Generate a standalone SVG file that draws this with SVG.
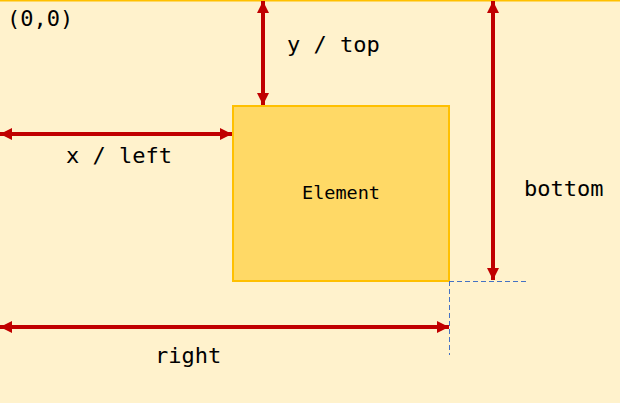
<svg xmlns="http://www.w3.org/2000/svg" width="620" height="403" viewBox="0 0 620 403">
<style>
.lbl{font-family:"DejaVu Sans Mono","Liberation Mono",monospace;font-size:22px;fill:#000}
.arr{stroke:#c00000;stroke-width:4;fill:none;marker-start:url(#ah);marker-end:url(#ah)}
.guide{stroke:#4472c4;stroke-width:1;stroke-dasharray:5,3;fill:none}
</style>
<defs>
<marker id="ah" viewBox="0 0 10 10" refX="10" refY="5" markerWidth="3" markerHeight="3" orient="auto-start-reverse" markerUnits="strokeWidth">
<path d="M0,0 L10,5 L0,10 z" fill="#c00000"/>
</marker>
</defs>
<rect x="0" y="0" width="620" height="403" fill="#fff2cc"/>
<line x1="0" y1="0.5" x2="620" y2="0.5" stroke="#ffc000" stroke-width="2"/>
<g id="element">
<rect x="233" y="106" width="216" height="175" fill="#ffd966" stroke="#ffc000" stroke-width="2"/>
<text x="341" y="199" text-anchor="middle" style="font-family:'DejaVu Sans Mono','Liberation Mono',monospace;font-size:18.5px;font-weight:500">Element</text>
</g>
<g id="origin"><text class="lbl" x="7" y="26">(0,0)</text></g>
<g id="connectors">
<line class="arr" x1="263" y1="1" x2="263" y2="105"/>
<line class="arr" x1="0" y1="134" x2="232" y2="134"/>
<line class="arr" x1="493" y1="1" x2="493" y2="280"/>
<line class="arr" x1="0" y1="327" x2="449" y2="327"/>
<line class="guide" x1="449" y1="281.5" x2="527" y2="281.5"/>
<line class="guide" x1="449.5" y1="281" x2="449.5" y2="355"/>
</g>
<g id="labels">
<text class="lbl" x="287" y="52">y / top</text>
<text class="lbl" x="66" y="163">x / left</text>
<text class="lbl" x="524" y="196">bottom</text>
<text class="lbl" x="155" y="363">right</text>
</g>
</svg>
